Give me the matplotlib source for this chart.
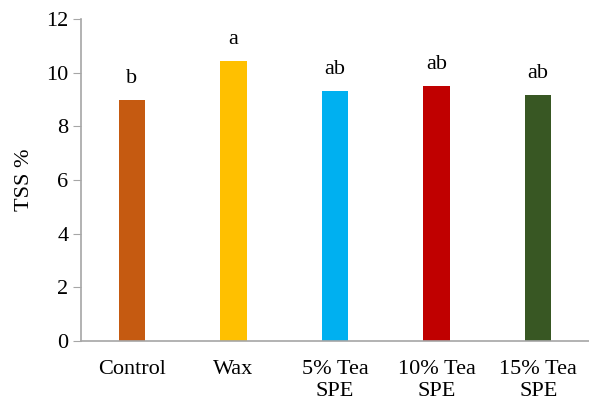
import matplotlib
matplotlib.use("Agg")
import matplotlib.pyplot as plt

categories = ["Control", "Wax", "5% Tea\nSPE", "10% Tea\nSPE", "15% Tea\nSPE"]
tss_values = [8.98, 10.44, 9.32, 9.50, 9.17]
letters = ["b", "a", "ab", "ab", "ab"]
colors = ["#C55A11", "#FFC000", "#00B0F0", "#C00000", "#385723"]

plt.rcParams["font.family"] = ["Liberation Serif", "DejaVu Serif"]

fig = plt.figure(figsize=(5.89, 4.01), dpi=100)
ax = fig.add_axes([81 / 589, 1 - 341 / 401, 508 / 589, 322 / 401])

x = range(len(categories))
bars = ax.bar(x, tss_values, width=0.26, color=colors)
for xi, v, lab in zip(x, tss_values, letters):
    ax.annotate(lab, (xi, v), xytext=(0, 8.5), textcoords="offset points",
                ha="center", va="bottom", fontsize=16)

ax.set_xlim(-0.5, len(categories) - 0.5)
ax.set_ylim(0, 12)
ax.set_yticks(range(0, 13, 2))
ax.set_xticks(list(x))
ax.set_xticklabels(categories, fontsize=16, linespacing=1.25)
ax.tick_params(axis="y", labelsize=16, length=6, color="#A6A6A6", pad=3)
ax.tick_params(axis="x", length=0, pad=13.5)
ax.set_ylabel("TSS %", fontsize=16, labelpad=9)

for side in ("top", "right"):
    ax.spines[side].set_visible(False)
for side in ("left", "bottom"):
    ax.spines[side].set_color("#A6A6A6")
    ax.spines[side].set_linewidth(1.2)

fig.savefig("out.png", dpi=100)
